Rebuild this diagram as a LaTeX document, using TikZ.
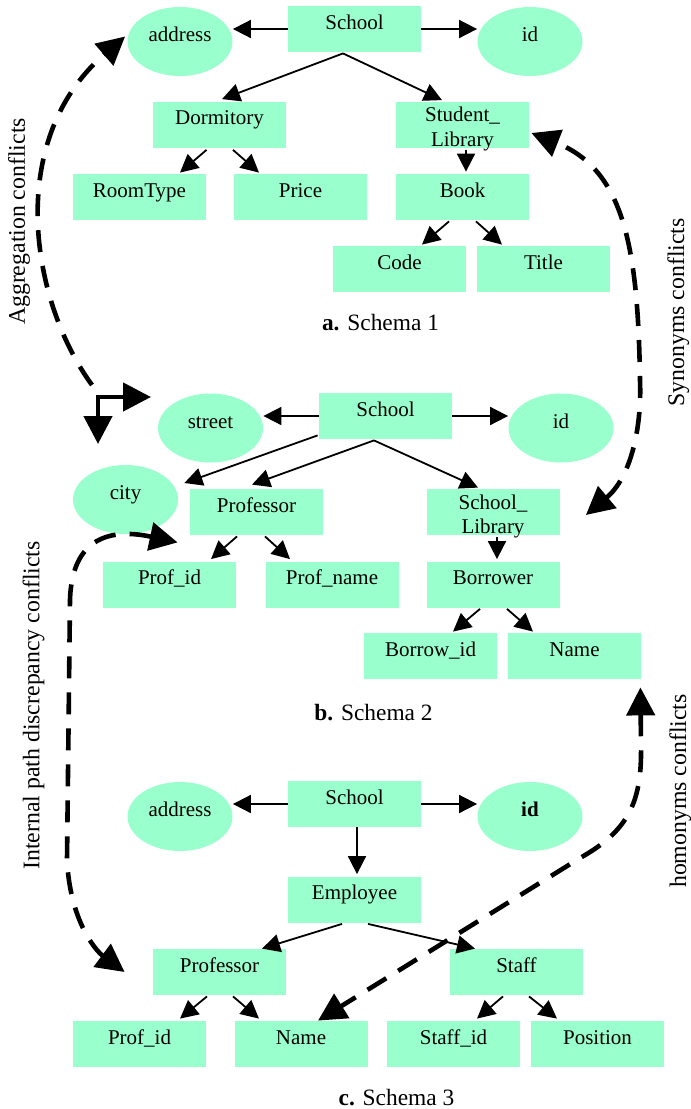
\documentclass[tikz,border=0pt]{standalone}
\usepackage{fontspec}
\setmainfont{Liberation Serif}
\usetikzlibrary{arrows.meta,shapes.geometric,calc}
\definecolor{mint}{RGB}{153,255,204}
\tikzset{
  smalltip/.tip={Triangle[length=9pt,width=9pt]},
  bigtip/.tip={Triangle[length=14pt,width=14pt]},
  entity/.style={fill=mint, minimum width=66.5pt, minimum height=23pt, inner sep=0pt,
    text height=6pt, text depth=6pt, font=\fontsize{10.5}{12.2}\selectfont},
  twoline/.style={entity, align=center, text height=22pt, text depth=0.5pt},
  attr/.style={ellipse, fill=mint, minimum width=52.5pt, minimum height=34.5pt, inner sep=0pt,
    text height=6pt, text depth=6pt, font=\fontsize{10.5}{12.2}\selectfont},
  rel/.style={-smalltip, line width=0.9pt},
  conflict/.style={line width=2.3pt, dash pattern=on 11pt off 7pt},
  side/.style={rotate=90, anchor=base, font=\fontsize{11.9}{14}\selectfont},
  caption/.style={anchor=base, font=\fontsize{11.7}{14}\selectfont}
}
\begin{document}
\begin{tikzpicture}[x=0.5pt,y=-0.5pt]
  \useasboundingbox (0,0) rectangle (691,1109);
  % schema 1
  \node[entity] (school1) at (354.5,29) {School};
  \node[attr] (address1) at (180,41.5) {address};
  \node[attr] (id1) at (530,41.5) {id};
  \node[entity] (dorm1) at (219.5,124.5) {Dormitory};
  \node[twoline] (stlib1) at (462.5,124.5) {Student\_\\Library};
  \node[entity] (room1) at (139.5,197) {RoomType};
  \node[entity] (price1) at (300.5,197) {Price};
  \node[entity] (book1) at (462.5,197) {Book};
  \node[entity] (code1) at (399.5,269) {Code};
  \node[entity] (title1) at (543.5,269) {Title};
  \node[caption] (cap1) at (380.5,330) {\textbf{a.} Schema 1};
  \draw[rel] (school1.west) -- (school1.west -| address1.east);
  \draw[rel] (school1.east) -- (school1.east -| id1.west);
  \coordinate (s1) at ($(school1.south)+(-11.5,1)$);
  \draw[rel] (s1) -- ($(dorm1.north)+(2.5,-2)$);
  \draw[rel] (s1) -- ($(stlib1.north)+(-20.5,-1)$);
  \draw[rel] ($(dorm1.south)+(-13,2)$) -- ($(room1.north)+(40.5,-1)$);
  \draw[rel] ($(dorm1.south)+(13.5,2)$) -- ($(price1.north)+(-41.5,-1)$);
  \draw[rel] ($(stlib1.south)+(3.5,2)$) -- ($(book1.north)+(3.5,-2)$);
  \draw[rel] ($(book1.south)+(-13.5,1)$) -- ($(code1.north)+(22.5,-1)$);
  \draw[rel] ($(book1.south)+(13.5,1)$) -- ($(title1.north)+(-41.5,-1)$);
  % schema 2
  \node[entity] (school2) at (385.5,416) {School};
  \node[attr] (street2) at (210.5,428) {street};
  \node[attr] (id2) at (561,428) {id};
  \node[attr] (city2) at (125.5,499.5) {city};
  \node[entity] (prof2) at (256.5,512) {Professor};
  \node[twoline] (sclib2) at (493,512) {School\_\\Library};
  \node[entity] (profid2) at (169.5,584.5) {Prof\_id};
  \node[entity] (profname2) at (332,584.5) {Prof\_name};
  \node[entity] (borrower2) at (493,584.5) {Borrower};
  \node[entity] (borrowid2) at (430.5,656) {Borrow\_id};
  \node[entity] (name2) at (574.5,656) {Name};
  \node[caption] (cap2) at (373.5,720) {\textbf{b.} Schema 2};
  \draw[rel] (school2.west) -- (school2.west -| street2.east);
  \draw[rel] (school2.east) -- (school2.east -| id2.west);
  \draw[rel] ($(school2.south west)+(-1,-4)$) -- ($(city2.east)+(6,-16.5)$);
  \coordinate (s2) at ($(school2.south)+(-11.5,1)$);
  \draw[rel] (s2) -- ($(prof2.north)+(-4.5,-4)$);
  \draw[rel] (s2) -- ($(sclib2.north)+(-15,-1)$);
  \draw[rel] ($(sclib2.south)+(4,2)$) -- ($(borrower2.north)+(4,-2)$);
  \draw[rel] ($(prof2.south)+(-19.5,1)$) -- ($(profid2.north)+(41.5,-2)$);
  \draw[rel] ($(prof2.south)+(8.5,1)$) -- ($(profname2.north)+(-42,-2)$);
  \draw[rel] ($(borrower2.south)+(-13,1)$) -- ($(borrowid2.north)+(22.5,-1)$);
  \draw[rel] ($(borrower2.south)+(14,1)$) -- ($(name2.north)+(-41.5,-1)$);
  % schema 3
  \node[entity] (school3) at (354.5,804) {School};
  \node[attr] (address3) at (180,816.5) {address};
  \node[attr] (id3) at (530,816.5) {\bfseries id};
  \node[entity] (emp3) at (354.5,899.5) {Employee};
  \node[entity] (prof3) at (219.5,972) {Professor};
  \node[entity] (staff3) at (516.5,972) {Staff};
  \node[entity] (profid3) at (139.5,1044) {Prof\_id};
  \node[entity] (name3) at (301,1044) {Name};
  \node[entity] (staffid3) at (453.5,1044) {Staff\_id};
  \node[entity] (position3) at (597.5,1044) {Position};
  \node[caption] (cap3) at (396.5,1105) {\textbf{c.} Schema 3};
  \draw[rel] (school3.west) -- (school3.west -| address3.east);
  \draw[rel] (school3.east) -- (school3.east -| id3.west);
  \draw[rel] ($(school3.south)+(2.5,0)$) -- ($(emp3.north)+(2.5,-2)$);
  \draw[rel] ($(emp3.south)+(-12.5,1)$) -- ($(prof3.north)+(42.5,0)$);
  \draw[rel] ($(emp3.south)+(13.5,1)$) -- ($(staff3.north)+(-41.5,0)$);
  \draw[rel] ($(prof3.south)+(-12.5,1)$) -- ($(profid3.north)+(40.5,-2)$);
  \draw[rel] ($(prof3.south)+(13.5,1)$) -- ($(name3.north)+(-42,-2)$);
  \draw[rel] ($(staff3.south)+(-13.5,1)$) -- ($(staffid3.north)+(23.5,-2)$);
  \draw[rel] ($(staff3.south)+(12.5,1)$) -- ($(position3.north)+(-40.5,-2)$);
  % conflicts
  \coordinate (aggend) at (92,385);
  \coordinate (bendR) at (151,397);
  \coordinate (bendD) at (98,444);
  \draw[conflict, -bigtip] (aggend) .. controls (30,300) and (5,140) .. ($(address1.west)+(-2,-5)$);
  \draw[line width=2.3pt, bigtip-bigtip] (bendR) -| (bendD);
  \draw[conflict, bigtip-bigtip] ($(sclib2.east)+(26,3)$) .. controls (630,478) and (642,430) .. (640,380)
    .. controls (638,250) and (625,170) .. ($(stlib1.east)+(2,8.5)$);
  \draw[conflict, bigtip-bigtip] ($(prof2.south west)+(-12,7)$) .. controls (120,530) and (72,530) .. (70,600)
    -- (67,860) .. controls (70,920) and (95,950) .. ($(prof3.west)+(-28,0)$);
  \draw[conflict, bigtip-bigtip] ($(name2.south east)+(-1,8)$) -- (641,745)
    .. controls (642,800) and (630,830) .. (580,858) -- ($(name3.north)+(17,0)$);
  \node[side] (agglab) at (25,221.5) {Aggregation conflicts};
  \node[side] (synlab) at (684,312.5) {Synonyms conflicts};
  \node[side] (iplab) at (39.5,705.5) {Internal path discrepancy conflicts};
  \node[side] (homlab) at (686,791) {homonyms conflicts};
\end{tikzpicture}
\end{document}
